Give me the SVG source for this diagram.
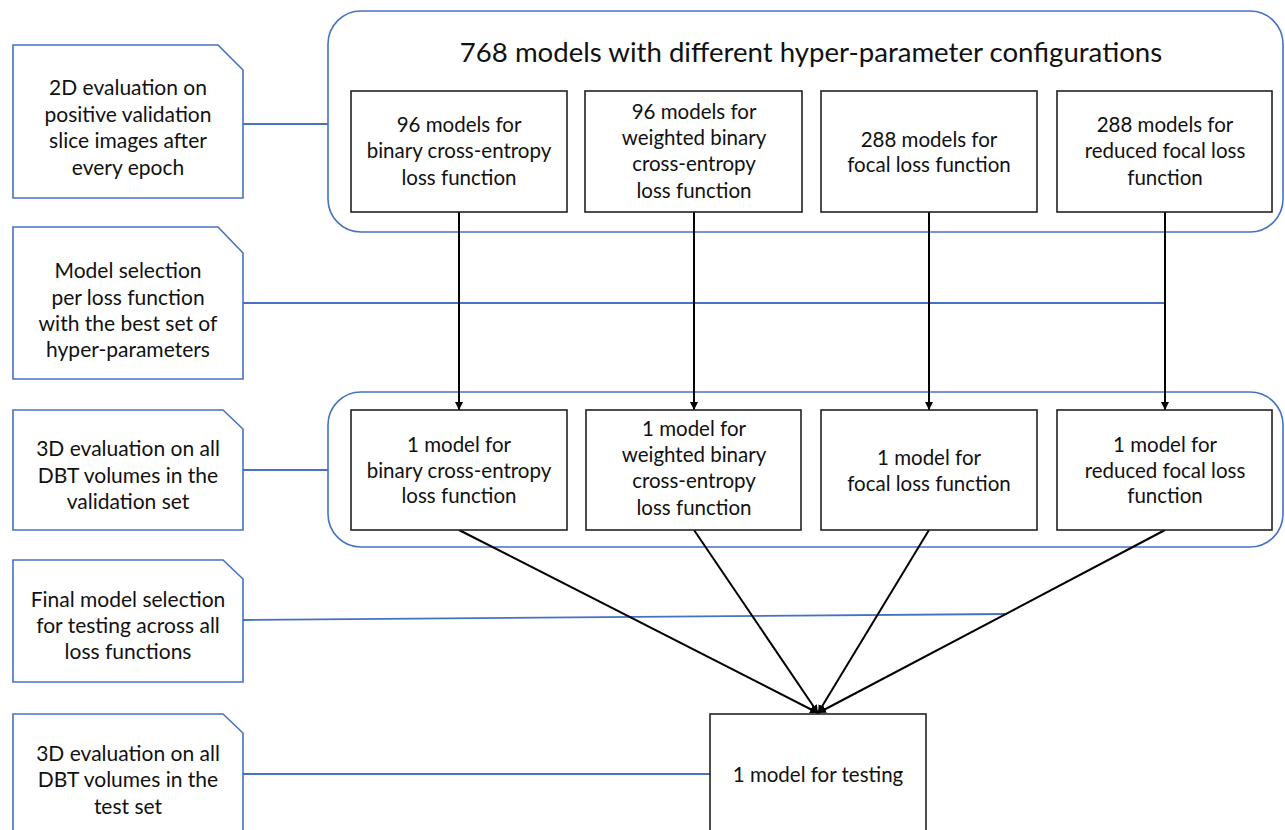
<svg xmlns="http://www.w3.org/2000/svg" width="1285" height="830" viewBox="0 0 1285 830">
<defs>
<style>
.note{fill:#fff;stroke:#4472C4;stroke-width:1.6}
.grp{fill:none;stroke:#4472C4;stroke-width:1.6}
.box{fill:#fff;stroke:#222;stroke-width:1.6}
.blue{fill:none;stroke:#4472C4;stroke-width:1.8}
.arr{fill:none;stroke:#000;stroke-width:2}
text{font-family:Lato,"Open Sans","Liberation Sans",sans-serif;fill:#111;text-anchor:middle}
.lt{font-size:21px}
.it{font-size:20.5px}
.tt{font-size:27.6px}
</style>
<marker id="ah" viewBox="0 0 10 10" refX="10" refY="5" markerWidth="8" markerHeight="8" markerUnits="userSpaceOnUse" orient="auto">
<path d="M0,0 L10,5 L0,10 z" fill="#000"/>
</marker>
</defs>
<rect width="1285" height="830" fill="#fff"/>

<g id="group-top">
<rect class="grp" x="328" y="11" width="955" height="221" rx="33" ry="33"/>
<text class="tt" x="811" y="62">768 models with different hyper-parameter configurations</text>
</g>
<g id="group-mid">
<rect class="grp" x="328" y="392" width="955" height="155" rx="33" ry="33"/>
</g>

<g id="connectors">
<line class="blue" x1="243" y1="124" x2="328" y2="124"/>
<line class="blue" x1="243" y1="303" x2="1165" y2="303"/>
<line class="blue" x1="243" y1="470" x2="328" y2="470"/>
<line class="blue" x1="243" y1="620" x2="1007" y2="614"/>
<line class="blue" x1="243" y1="774" x2="710" y2="774"/>
<line class="arr" x1="459" y1="212" x2="459" y2="410" marker-end="url(#ah)"/>
<line class="arr" x1="694" y1="212" x2="694" y2="410" marker-end="url(#ah)"/>
<line class="arr" x1="929" y1="212" x2="929" y2="410" marker-end="url(#ah)"/>
<line class="arr" x1="1165" y1="212" x2="1165" y2="410" marker-end="url(#ah)"/>
<line class="arr" x1="459" y1="530" x2="818" y2="713" marker-end="url(#ah)"/>
<line class="arr" x1="694" y1="530" x2="818" y2="713" marker-end="url(#ah)"/>
<line class="arr" x1="929" y1="530" x2="818" y2="713" marker-end="url(#ah)"/>
<line class="arr" x1="1165" y1="530" x2="818" y2="713" marker-end="url(#ah)"/>
</g>

<g id="note1">
<path class="note" d="M13,45 H218 L243,70 V198 H13 Z"/>
<text class="lt" x="128" y="95">2D evaluation on</text>
<text class="lt" x="128" y="122">positive validation</text>
<text class="lt" x="128" y="148">slice images after</text>
<text class="lt" x="128" y="175">every epoch</text>
</g>
<g id="note2">
<path class="note" d="M13,227 H218 L243,253 V379 H13 Z"/>
<text class="lt" x="128" y="278">Model selection</text>
<text class="lt" x="128" y="305">per loss function</text>
<text class="lt" x="128" y="331">with the best set of</text>
<text class="lt" x="128" y="357">hyper-parameters</text>
</g>
<g id="note3">
<path class="note" d="M13,410 H223 L243,429 V530 H13 Z"/>
<text class="lt" x="128" y="456">3D evaluation on all</text>
<text class="lt" x="128" y="483">DBT volumes in the</text>
<text class="lt" x="128" y="509">validation set</text>
</g>
<g id="note4">
<path class="note" d="M13,560 H223 L243,579 V682 H13 Z"/>
<text class="lt" x="128" y="607">Final model selection</text>
<text class="lt" x="128" y="633">for testing across all</text>
<text class="lt" x="128" y="659">loss functions</text>
</g>
<g id="note5">
<path class="note" d="M13,714 H223 L243,733 V840 H13 Z"/>
<text class="lt" x="128" y="761">3D evaluation on all</text>
<text class="lt" x="128" y="787">DBT volumes in the</text>
<text class="lt" x="128" y="814">test set</text>
</g>

<g id="top-bce">
<rect class="box" x="351" y="91" width="216" height="121"/>
<text class="it" x="459" y="132">96 models for</text>
<text class="it" x="459" y="158">binary cross-entropy</text>
<text class="it" x="459" y="185">loss function</text>
</g>
<g id="top-wbce">
<rect class="box" x="585" y="91" width="217" height="121"/>
<text class="it" x="694" y="119">96 models for</text>
<text class="it" x="694" y="145">weighted binary</text>
<text class="it" x="694" y="171">cross-entropy</text>
<text class="it" x="694" y="198">loss function</text>
</g>
<g id="top-focal">
<rect class="box" x="821" y="91" width="216" height="121"/>
<text class="it" x="929" y="147">288 models for</text>
<text class="it" x="929" y="172">focal loss function</text>
</g>
<g id="top-rfocal">
<rect class="box" x="1057" y="91" width="215" height="121"/>
<text class="it" x="1165" y="132">288 models for</text>
<text class="it" x="1165" y="158">reduced focal loss</text>
<text class="it" x="1165" y="185">function</text>
</g>

<g id="mid-bce">
<rect class="box" x="351" y="410" width="216" height="120"/>
<text class="it" x="459" y="452">1 model for</text>
<text class="it" x="459" y="478">binary cross-entropy</text>
<text class="it" x="459" y="503">loss function</text>
</g>
<g id="mid-wbce">
<rect class="box" x="586" y="410" width="215" height="120"/>
<text class="it" x="694" y="436">1 model for</text>
<text class="it" x="694" y="462">weighted binary</text>
<text class="it" x="694" y="488">cross-entropy</text>
<text class="it" x="694" y="515">loss function</text>
</g>
<g id="mid-focal">
<rect class="box" x="821" y="410" width="216" height="120"/>
<text class="it" x="929" y="465">1 model for</text>
<text class="it" x="929" y="491">focal loss function</text>
</g>
<g id="mid-rfocal">
<rect class="box" x="1057" y="410" width="215" height="120"/>
<text class="it" x="1165" y="452">1 model for</text>
<text class="it" x="1165" y="478">reduced focal loss</text>
<text class="it" x="1165" y="503">function</text>
</g>

<g id="final">
<rect class="box" x="710" y="714" width="216" height="130"/>
<text class="it" x="818" y="782">1 model for testing</text>
</g>
</svg>
